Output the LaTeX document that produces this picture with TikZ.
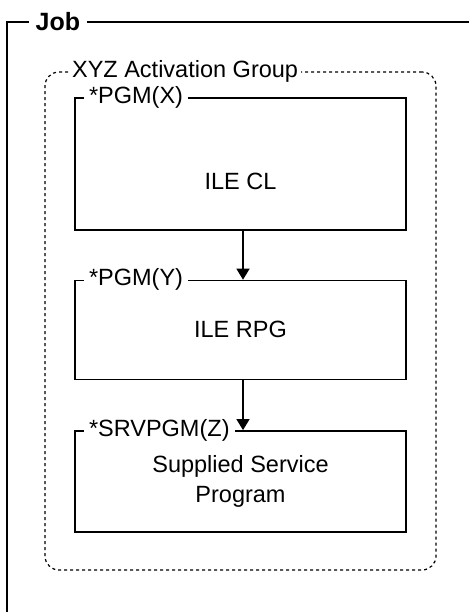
\documentclass[tikz,border=0pt]{standalone}
\usepackage{fontspec}
\setmainfont{Liberation Sans}
\usetikzlibrary{arrows.meta,positioning}

\begin{document}
\begin{tikzpicture}[x=1pt,y=-1pt,>={Triangle[width=13pt,length=11pt]},
  line width=1.4pt,every node/.style={font=\fontsize{23.5}{30}\selectfont},
  prog node/.style={rectangle,draw,line width=1.4pt,minimum width=331pt,inner sep=0pt},
  tag node/.style={fill=white,inner xsep=5pt,inner ysep=1pt,anchor=west},
  group node/.style={rectangle,draw,line width=1.2pt,dash pattern=on 3pt off 3pt,
    rounded corners=14pt,minimum width=391pt,minimum height=498pt}]
  \useasboundingbox (0,0) rectangle (469,612);

  % job frame
  \coordinate (jobbottom) at (7,612);
  \coordinate (jobcorner) at (7,22);
  \coordinate (jobend) at (469,22);
  \draw (jobbottom) -- (jobcorner) -- (jobend);
  \node[tag node,inner xsep=7pt,font=\fontsize{25}{30}\bfseries\selectfont] (job) at (28,22) {Job};

  % activation group
  \node[group node] (grp) at (240.5,321) {};
  \node[tag node,inner xsep=3pt] (grptag) at ([xshift=24pt]grp.north west) {XYZ Activation Group};

  % programs
  \node[prog node,minimum height=132pt] (pgmx) at (240.5,164) {};
  \node (pgmxtext) at ([yshift=-17pt]pgmx.center) {ILE CL};
  \node[prog node,minimum height=99pt,below=49pt of pgmx] (pgmy) {ILE RPG};
  \node[prog node,minimum height=101pt,below=50pt of pgmy,align=center] (srvpgmz) {Supplied Service\\Program};

  \node[tag node] (pgmxtag) at ([xshift=9pt]pgmx.north west) {*PGM(X)};
  \node[tag node] (pgmytag) at ([xshift=9pt]pgmy.north west) {*PGM(Y)};
  \node[tag node] (srvpgmztag) at ([xshift=9pt]srvpgmz.north west) {*SRVPGM(Z)};

  \path[->]
    ([xshift=2.5pt]pgmx.south) edge ([xshift=2.5pt]pgmy.north)
    ([xshift=2.5pt]pgmy.south) edge ([xshift=2.5pt]srvpgmz.north);
\end{tikzpicture}
\end{document}
